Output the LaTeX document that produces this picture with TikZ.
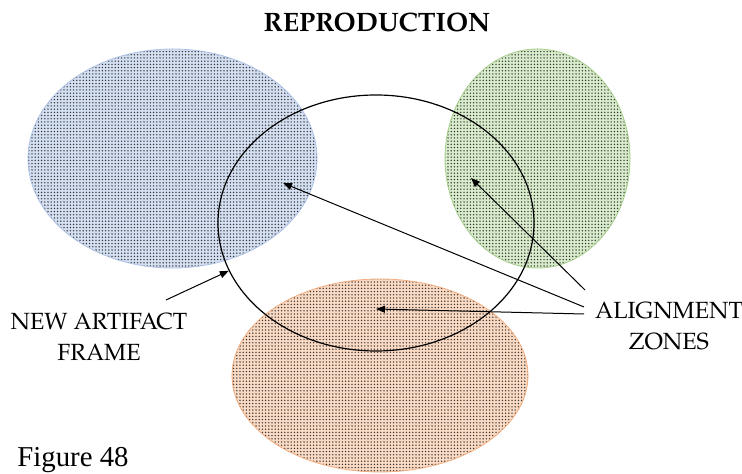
\documentclass[tikz,border=0pt]{standalone}
\usepackage{fontspec}
\setmainfont{Liberation Serif}
\newfontfamily\antiqua{TeX Gyre Pagella}
\usepackage{xcolor}
\usetikzlibrary{shapes.geometric,patterns.meta,arrows.meta}

\definecolor{zoneblue}{HTML}{D4DFF2}
\definecolor{zonegreen}{HTML}{D8EBCB}
\definecolor{zoneorange}{HTML}{FBDAC4}
\definecolor{edgeblue}{HTML}{AFC3E6}
\definecolor{edgegreen}{HTML}{A6CF8B}
\definecolor{edgeorange}{HTML}{F2AE80}

\begin{document}
\begin{tikzpicture}[x=0.5pt,y=-0.5pt]
\tikzstyle{zone} = [ellipse, inner sep=0pt, line width=0.4pt,
  pattern={Dots[distance=1.6pt,radius=0.38pt]}, pattern color=black!80]
\tikzstyle{blueZone} = [zone, draw=edgeblue, preaction={fill=zoneblue}]
\tikzstyle{greenZone} = [zone, draw=edgegreen, preaction={fill=zonegreen}]
\tikzstyle{orangeZone} = [zone, draw=edgeorange, preaction={fill=zoneorange}]
\tikzstyle{frame} = [ellipse, inner sep=0pt, draw=black, line width=0.6pt]
\tikzstyle{label} = [font=\antiqua\fontsize{11.7}{15.5}\selectfont, align=center, inner sep=0pt]
\tikzstyle{pointer} = [draw=black, line width=0.5pt, -{Triangle[length=4.5pt,width=3.5pt]}]

\useasboundingbox (0,0) rectangle (742,474);

\node(blue) [blueZone, minimum width=144.5pt, minimum height=109.5pt] at (172.5,158.5) {};
\node(green) [greenZone, minimum width=92.5pt, minimum height=109.5pt] at (537.5,158.5) {};
\node(orange) [orangeZone, minimum width=148pt, minimum height=96.5pt] at (380,375.5) {};
\node(newFrame) [frame, minimum width=158pt, minimum height=128pt] at (376,223) {};

\node(title) [label, font=\antiqua\bfseries\fontsize{13.3}{15}\selectfont] at (377,22) {REPRODUCTION};
\node(frameText) [label] at (99,337) {NEW ARTIFACT\\FRAME};
\node(zonesText) [label] at (669,326) {ALIGNMENT\\ZONES};
\node(figLabel) [anchor=west, inner sep=0pt, font=\fontsize{14.4}{16}\selectfont] at (17,460) {Figure 48};

\coordinate(blueSpot) at (283,183);
\coordinate(greenSpot) at (471,178);
\coordinate(orangeSpot) at (376,309);
\coordinate(frameTail) at (166,300);
\coordinate(greenTail) at (585,290);
\coordinate(blueTail) at (584,307);
\coordinate(orangeTail) at (584,314);

\draw[pointer] (frameTail) -- (newFrame.198);
\draw[pointer] (greenTail) -- (greenSpot);
\draw[pointer] (blueTail) -- (blueSpot);
\draw[pointer] (orangeTail) -- (orangeSpot);
\end{tikzpicture}
\end{document}
